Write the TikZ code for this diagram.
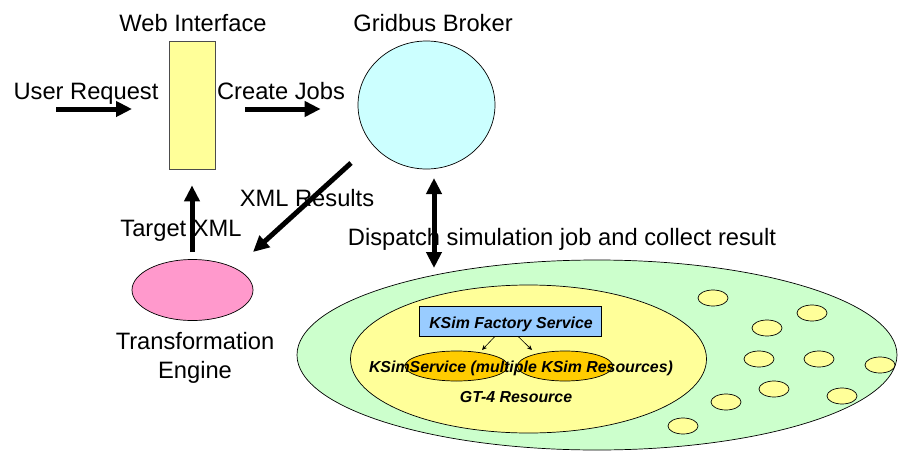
\documentclass[tikz,border=0pt]{standalone}
\usepackage{fontspec}
\setmainfont{Liberation Sans}
\usepackage{tikz}
\usetikzlibrary{shapes,shapes.geometric,arrows.meta,calc,positioning}

\definecolor{webyellow}{HTML}{FFFF99}
\definecolor{brokercyan}{HTML}{CCFFFF}
\definecolor{enginepink}{HTML}{FF99CC}
\definecolor{gridgreen}{HTML}{CCFFCC}
\definecolor{factoryblue}{HTML}{99CCFF}
\definecolor{kssorange}{HTML}{FFCC00}

\tikzset{
  lbl/.style={font=\fontsize{23.7}{27}\selectfont, anchor=base, inner sep=0pt},
  innerlbl/.style={font=\fontsize{15.9}{18}\selectfont\bfseries\itshape, anchor=base, inner sep=0pt},
  bigarrow/.style={line width=5pt, -{Triangle[length=16pt,width=15pt]}},
  smallarrow/.style={line width=0.6pt, -{Stealth[length=5pt,width=4.5pt]}},
  oval/.style={ellipse, draw, line width=0.7pt, inner sep=0pt},
  cell/.style={oval, fill=webyellow, minimum width=30pt, minimum height=16pt}
}

\begin{document}
\begin{tikzpicture}[x=1pt, y=-1pt]
    \useasboundingbox (0,0) rectangle (898,453);

    % Nodes
    \node[rectangle, draw=black!70, line width=0.7pt, fill=webyellow, minimum width=46pt, minimum height=128pt] (web) at (192,105) {};
    \node[oval, fill=brokercyan, minimum width=137pt, minimum height=128pt] (broker) at (426.5,105) {};
    \node[oval, fill=enginepink, minimum width=121pt, minimum height=61pt] (engine) at (192.5,290) {};

    % Grid
    \node[oval, fill=gridgreen, minimum width=600pt, minimum height=190pt] (grid) at (597,355) {};
    \node[oval, fill=webyellow, minimum width=356pt, minimum height=148pt] (gt) at (528.5,359) {};
    \node[rectangle, draw, line width=0.7pt, fill=factoryblue, minimum width=182pt, minimum height=30pt] (factory) at (510,321) {};
    \node[oval, fill=kssorange, minimum width=103pt, minimum height=30pt] (kss1) at (456.5,366) {};
    \node[oval, fill=kssorange, minimum width=95pt, minimum height=30pt] (kss2) at (565,366) {};
    \foreach \cx/\cy [count=\i] in {713/298, 812/313, 767/328, 759/359, 819/359, 880/365, 774/389, 842/396, 726/402, 683/426}
      \node[cell] (c\i) at (\cx,\cy) {};

    % Labels
    \node[lbl] (webtxt) at (193,31) {Web Interface};
    \node[lbl] (brokertxt) at (433,31) {Gridbus Broker};
    \node[lbl] (usertxt) at (86,99) {User Request};
    \node[lbl] (jobstxt) at (281,99) {Create Jobs};
    \node[lbl] (xmlrtxt) at (307,206) {XML Results};
    \node[lbl] (targettxt) at (181,236) {Target XML};
    \node[lbl] (dispatchtxt) at (562,245) {Dispatch simulation job and collect result};
    \node[lbl] (enginetxt1) at (195,349) {Transformation};
    \node[lbl] (enginetxt2) at (195,378) {Engine};
    \node[innerlbl] (factorytxt) at (511,328) {KSim Factory Service};
    \node[innerlbl] (ksstxt) at (521,372) {KSimService (multiple KSim Resources)};
    \node[innerlbl] (gttxt) at (516,402) {GT-4 Resource};

    % Arrows
    \coordinate (userS) at (56,109);
    \coordinate (userE) at (132,109);
    \coordinate (xmlS) at (351,163);
    \coordinate (xmlE) at (253,252);
    \coordinate (dispS) at (434,178);
    \coordinate (dispE) at (434,268);
    \coordinate (k1) at (482,350);
    \coordinate (k2) at (532,350);
    \draw[bigarrow] (userS) -- (userE);
    \draw[bigarrow, shorten <=30pt, shorten >=37pt] (web.east |- 0,109) -- (broker.west |- 0,109);
    \draw[bigarrow, shorten <=7pt, shorten >=16pt] (engine.north -| web.south) -- (web.south);
    \draw[bigarrow] (xmlS) -- (xmlE);
    \draw[line width=5pt, {Triangle[length=16pt,width=15pt]}-{Triangle[length=16pt,width=15pt]}] (dispS) -- (dispE);
    \draw[smallarrow] ([xshift=-15pt]factory.south) -- (k1);
    \draw[smallarrow] ([xshift=8pt]factory.south) -- (k2);
  \end{tikzpicture}
\end{document}
